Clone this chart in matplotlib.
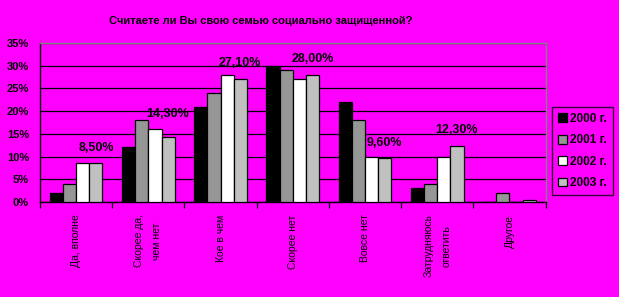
import matplotlib
matplotlib.use("Agg")
import matplotlib.pyplot as plt
import numpy as np

categories = ["Да, вполне", "Скорее да,\nчем нет", "Кое в чем", "Скорее нет",
              "Вовсе нет", "Затрудняюсь\nответить", "Другое"]
years = ["2000 г.", "2001 г.", "2002 г.", "2003 г."]
v2000 = [2, 12, 21, 30, 22, 3, 0]
v2001 = [4, 18, 24, 29, 18, 4, 2]
v2002 = [8.5, 16, 28, 27, 10, 10, 0]
v2003 = [8.5, 14.3, 27.1, 28.0, 9.6, 12.3, 0.4]
labelled = [0, 1, 2, 3, 4, 5]  # categories whose 2003 bar carries a value label
yticks = [0, 5, 10, 15, 20, 25, 30, 35]

plt.rcParams["font.family"] = ["Liberation Sans", "DejaVu Sans"]

series = [v2000, v2001, v2002, v2003]
colors = ["#000000", "#969696", "#FFFFFF", "#C0C0C0"]
bg = "#FF00FF"
# vertical gap (points) between each 2003 bar and its value label
label_gap = {0: 7, 1: 12, 2: 7, 3: 7, 4: 7, 5: 7}

fig = plt.figure(figsize=(6.19, 2.97), dpi=100, facecolor=bg)
ax = fig.add_axes([40 / 619, 1 - 202 / 297, 505.5 / 619, 159 / 297])
ax.set_facecolor(bg)

n = len(categories)
x = np.arange(n)
bw = 0.73 / 4
for i, (vals, col) in enumerate(zip(series, colors)):
    ax.bar(x + (i - 1.5) * bw, vals, width=bw, color=col, edgecolor="black",
           linewidth=0.9, label=years[i], zorder=3)

for k in labelled:
    val = v2003[k]
    ax.annotate(f"{val:.2f}%".replace(".", ","), (x[k] + 1.5 * bw, val),
                xytext=(0, label_gap[k]), textcoords="offset points",
                ha="center", va="bottom", fontsize=9, fontweight="bold",
                zorder=4)

ax.set_xlim(-0.5, n - 0.5)
ax.set_ylim(0, 35)
ax.set_yticks(yticks)
ax.set_yticklabels([f"{t}%" for t in yticks], fontsize=8, fontweight="bold")
ax.yaxis.grid(True, color="black", linewidth=0.9, zorder=0)
ax.tick_params(axis="y", length=0, pad=8)

ax.set_xticks(np.arange(n + 1) - 0.5, minor=False)
ax.set_xticklabels([])
ax.set_xticks(x, minor=True)
ax.set_xticklabels(categories, minor=True, rotation=90, fontsize=7.5,
                   va="top", ha="center", linespacing=2.0)
ax.tick_params(axis="x", which="major", length=4, color="black", width=0.9)
ax.tick_params(axis="x", which="minor", length=0, pad=9)

for side in ["left", "bottom"]:
    ax.spines[side].set_color("black")
    ax.spines[side].set_linewidth(1.0)
for side in ["top", "right"]:
    ax.spines[side].set_color("#808080")
    ax.spines[side].set_linewidth(1.0)

fig.suptitle("Считаете ли Вы свою семью социально защищенной?", x=261 / 619,
             y=1 - 16 / 297, fontsize=8, fontweight="bold", va="top")

leg = fig.legend(loc="upper left", bbox_to_anchor=(552 / 619, 1 - 107 / 297),
                 frameon=True, prop={"weight": "bold", "size": 8.5},
                 handlelength=0.75, handleheight=0.75, handletextpad=0.3,
                 labelspacing=0.8, borderpad=0.5, borderaxespad=0,
                 fancybox=False)
leg.get_frame().set_facecolor(bg)
leg.get_frame().set_edgecolor("black")
leg.get_frame().set_linewidth(1.0)

fig.savefig("out.png", dpi=100, facecolor=bg)
